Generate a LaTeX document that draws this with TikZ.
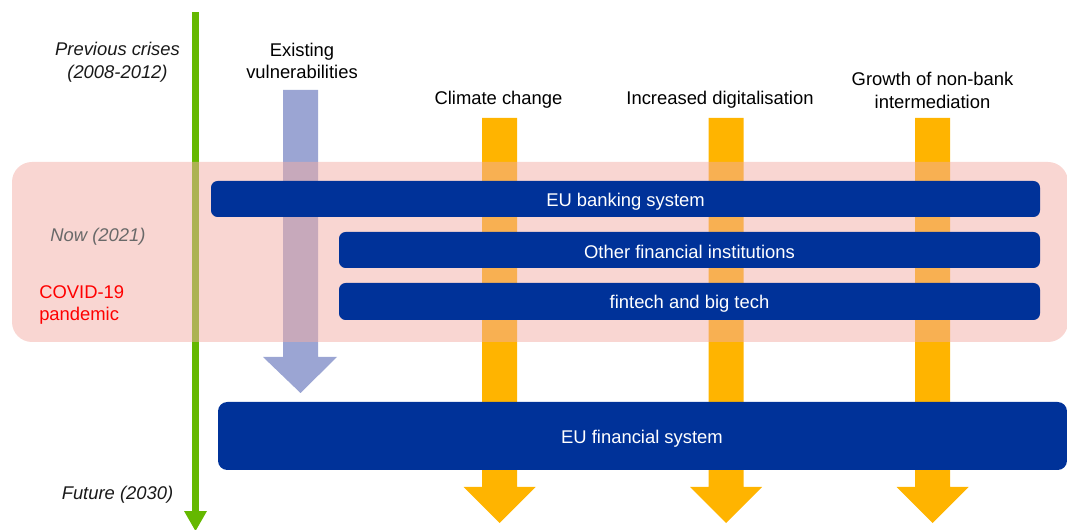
\documentclass[tikz,border=0pt]{standalone}
\usepackage{fontspec}
\setmainfont{Liberation Sans}
\definecolor{ecbblue}{RGB}{0,50,153}
\definecolor{ecborange}{RGB}{255,180,0}
\definecolor{lav}{RGB}{155,165,211}
\definecolor{pinkbg}{RGB}{243,173,165}
\definecolor{grn}{RGB}{101,184,0}
\definecolor{nowgray}{RGB}{105,105,105}
\definecolor{covred}{RGB}{255,0,0}
\tikzset{
  lbl/.style={font=\fontsize{13.8}{17}\selectfont, align=center, inner sep=0pt, text=black},
  itlbl/.style={lbl, font=\fontsize{13.8}{17}\selectfont\itshape},
  barbox/.style={fill=ecbblue, rounded corners=5pt, draw=none},
  bartext/.style={font=\fontsize{13.8}{17}\selectfont, text=white, inner sep=0pt},
  orangearrow/.style={fill=ecborange, draw=none},
}
\begin{document}
\begin{tikzpicture}[x=0.75pt,y=-0.75pt]
\useasboundingbox (0,0) rectangle (1067,530);
% green time axis
\fill[grn] (192,12) rectangle (199,512);
\fill[grn] (184,511) -- (207,511) -- (195.5,531) -- cycle;
% existing vulnerabilities arrow
\fill[lav] (283,90) -- (318,90) -- (318,357) -- (337,357) -- (300.5,393) -- (263,357) -- (283,357) -- cycle;
% orange arrows
\foreach \cx in {499.5,726,932.5}{
  \fill[orangearrow] (\cx-17.5,118) -- (\cx+17.5,118) -- (\cx+17.5,487) -- (\cx+36,487) -- (\cx,523) -- (\cx-36,487) -- (\cx-17.5,487) -- cycle;
}
% pink band
\fill[pinkbg, opacity=0.5, rounded corners=15pt] (12,162) rectangle (1068,342);
% bars
\fill[barbox] (211,181) rectangle (1040,217);
\fill[barbox] (339,232) rectangle (1040,268);
\fill[barbox] (339,283) rectangle (1040,320);
\fill[barbox, rounded corners=7pt] (218,402) rectangle (1067,470);
\node[bartext] (bank) at (625.5,202) {EU banking system};
\node[bartext] (ofi) at (689.5,252) {Other financial institutions};
\node[bartext] (fin) at (689.5,304) {fintech and big tech};
\node[bartext] (efs) at (642,439) {EU financial system};
% labels
\node[itlbl, text=black!90] (prev) at (117.5,62) {Previous crises\\(2008-2012)};
\node[lbl] (exist) at (302,61) {Existing\\vulnerabilities};
\node[lbl] (climate) at (498.5,100) {Climate change};
\node[lbl] (digit) at (720,100) {Increased digitalisation};
\node[lbl] (growth) at (932.5,90.5) {Growth of non-bank\\intermediation};
\node[itlbl, text=nowgray] (now) at (98,237) {Now (2021)};
\node[lbl, text=covred, align=left, anchor=west] (covid) at (39,305) {COVID-19\\pandemic};
\node[itlbl, text=black!90] (future) at (117.5,495) {Future (2030)};
\end{tikzpicture}
\end{document}
